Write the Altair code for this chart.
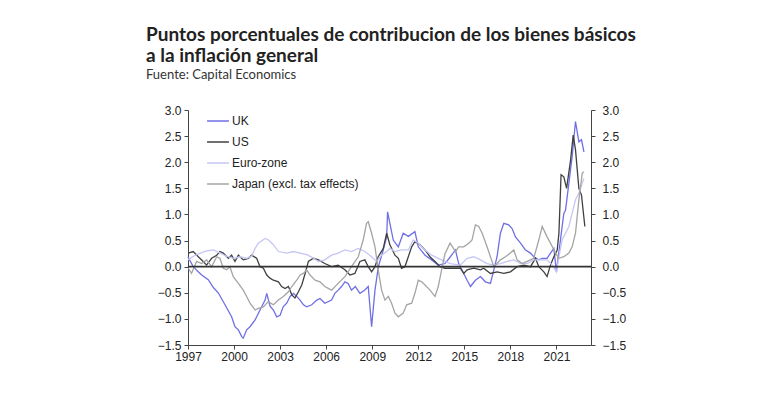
import altair as alt
import pandas as pd

SERIES = ["UK", "US", "Euro-zone", "Japan (excl. tax effects)"]
COLORS = ["#6f6fe6", "#404040", "#c6c6f4", "#a4a4a4"]

UK_YEARS = [1997.0, 1997.3, 1997.6, 1997.89, 1998.32, 1998.65, 1998.97, 1999.41, 1999.84, 2000.06,
            2000.28, 2000.5, 2000.6, 2000.82, 2001.04, 2001.37, 2001.69, 2002.02, 2002.13, 2002.34,
            2002.56, 2002.78, 2003.0, 2003.2, 2003.43, 2003.65, 2003.87, 2004.08, 2004.3, 2004.52,
            2004.73, 2005.06, 2005.39, 2005.6, 2005.91, 2006.35, 2006.57, 2006.78, 2007.0, 2007.22,
            2007.43, 2007.65, 2007.9, 2008.2, 2008.5, 2008.74, 2008.96, 2009.18, 2009.4, 2009.7,
            2009.94, 2010.0, 2010.15, 2010.37, 2010.7, 2011.02, 2011.35, 2011.78, 2012.0, 2012.44,
            2012.87, 2013.3, 2013.74, 2014.09, 2014.42, 2014.63, 2014.96, 2015.18, 2015.4, 2015.72,
            2016.05, 2016.37, 2016.7, 2016.92, 2017.13, 2017.35, 2017.57, 2017.89, 2018.11, 2018.33,
            2018.66, 2018.98, 2019.31, 2019.52, 2019.85, 2020.07, 2020.39, 2020.61, 2020.83, 2021.0,
            2021.09, 2021.26, 2021.48, 2021.59, 2021.81, 2022.02, 2022.24, 2022.46, 2022.63, 2022.79]
UK_VALUES = [0.19, 0.02, -0.08, -0.16, -0.25, -0.40, -0.50, -0.73, -0.96, -1.15,
             -1.21, -1.34, -1.37, -1.21, -1.15, -1.02, -0.83, -0.64, -0.51, -0.75,
             -0.83, -0.96, -0.93, -0.77, -0.70, -0.57, -0.51, -0.57, -0.64, -0.73,
             -0.77, -0.73, -0.64, -0.61, -0.70, -0.64, -0.51, -0.45, -0.38, -0.29,
             -0.32, -0.45, -0.38, -0.51, -0.45, -0.38, -1.15, -0.45, 0.0, 0.30,
             0.57, 1.05, 0.83, 0.51, 0.38, 0.64, 0.58, 0.67, 0.38, 0.22,
             0.13, 0.03, 0.06, 0.19, 0.32, 0.06, -0.13, -0.26, -0.38, -0.26,
             -0.19, -0.29, -0.32, -0.06, 0.19, 0.64, 0.83, 0.80, 0.73, 0.57,
             0.45, 0.32, 0.26, 0.19, 0.13, 0.16, 0.16, 0.26, 0.35, -0.10,
             0.13, 0.51, 1.02, 1.08, 1.60, 2.10, 2.78, 2.39, 2.43, 2.20]

US_YEARS = [1997.02, 1997.34, 1997.67, 1997.99, 1998.21, 1998.54, 1998.87, 1999.08, 1999.3, 1999.63,
            1999.84, 2000.06, 2000.28, 2000.6, 2000.93, 2001.15, 2001.47, 2001.69, 2001.91, 2002.13,
            2002.34, 2002.56, 2002.89, 2003.1, 2003.32, 2003.54, 2003.76, 2003.97, 2004.19, 2004.41,
            2004.63, 2004.84, 2005.17, 2005.5, 2005.91, 2006.35, 2006.78, 2007.22, 2007.55, 2007.87,
            2008.2, 2008.52, 2008.74, 2008.96, 2009.18, 2009.39, 2009.72, 2009.94, 2010.15, 2010.48,
            2010.7, 2010.91, 2011.13, 2011.35, 2011.57, 2011.78, 2012.11, 2012.44, 2012.76, 2013.09,
            2013.41, 2013.74, 2014.18, 2014.74, 2014.96, 2015.18, 2015.61, 2016.05, 2016.26, 2016.7,
            2017.13, 2017.57, 2018.0, 2018.44, 2018.87, 2019.31, 2019.63, 2019.85, 2020.18, 2020.39,
            2020.61, 2020.83, 2021.05, 2021.16, 2021.3, 2021.48, 2021.66, 2021.92, 2022.09, 2022.24,
            2022.46, 2022.63, 2022.85]
US_VALUES = [0.26, 0.29, 0.19, 0.10, 0.03, 0.16, 0.22, 0.29, 0.26, 0.16,
             0.22, 0.10, 0.22, 0.13, 0.16, 0.22, 0.16, 0.0, -0.03, -0.16,
             -0.22, -0.26, -0.29, -0.38, -0.42, -0.38, -0.54, -0.60, -0.48, -0.35,
             -0.13, 0.10, 0.16, 0.13, 0.06, 0.0, 0.03, -0.06, -0.16, -0.13,
             0.10, 0.13, 0.0, -0.10, 0.0, 0.19, 0.35, 0.64, 0.42, 0.22,
             0.16, -0.03, 0.0, 0.19, 0.38, 0.48, 0.42, 0.32, 0.19, 0.10,
             0.0, -0.03, -0.03, -0.03, -0.13, -0.06, -0.03, -0.06, -0.03, -0.13,
             -0.10, -0.13, -0.10, 0.0, 0.03, 0.0, 0.16, 0.0, -0.10, -0.19,
             0.03, 0.19, 0.32, 0.64, 1.76, 1.72, 1.50, 2.04, 2.52, 2.24,
             1.50, 1.37, 0.77]

EZ_YEARS = [1997.0, 1997.35, 1997.8, 1998.2, 1998.65, 1999.1, 1999.5, 1999.96, 2000.4, 2000.83,
            2001.15, 2001.37, 2001.58, 2002.02, 2002.24, 2002.56, 2002.89, 2003.44, 2003.87, 2004.3,
            2004.74, 2005.2, 2005.48, 2005.91, 2006.35, 2006.78, 2007.22, 2007.65, 2008.09, 2008.52,
            2008.96, 2009.28, 2009.61, 2009.94, 2010.15, 2010.48, 2010.91, 2011.35, 2011.67, 2012.0,
            2012.44, 2012.87, 2013.3, 2013.74, 2014.09, 2014.74, 2015.18, 2015.61, 2016.05, 2016.48,
            2016.92, 2017.35, 2017.79, 2018.22, 2018.66, 2019.09, 2019.52, 2019.96, 2020.39, 2020.72,
            2021.0, 2021.16, 2021.37, 2021.59, 2021.81, 2022.02, 2022.24, 2022.46, 2022.68, 2022.79]
EZ_VALUES = [0.13, 0.20, 0.26, 0.30, 0.32, 0.26, 0.20, 0.16, 0.19, 0.16,
             0.20, 0.35, 0.45, 0.54, 0.51, 0.42, 0.29, 0.26, 0.29, 0.26,
             0.23, 0.16, 0.10, 0.13, 0.22, 0.26, 0.32, 0.29, 0.35, 0.29,
             0.19, 0.10, 0.22, 0.29, 0.35, 0.29, 0.32, 0.32, 0.51, 0.45,
             0.32, 0.22, 0.16, 0.10, 0.06, 0.03, 0.16, 0.19, 0.13, 0.06,
             0.03, 0.06, 0.10, 0.13, 0.06, 0.06, 0.13, 0.13, 0.13, 0.03,
             -0.10, 0.19, 0.51, 0.64, 0.77, 1.02, 1.28, 1.41, 1.60, 1.69]

JP_YEARS = [1997.02, 1997.23, 1997.56, 1997.89, 1998.21, 1998.54, 1998.87, 1999.08, 1999.3, 1999.52,
            1999.73, 1999.95, 2000.28, 2000.6, 2000.82, 2001.04, 2001.37, 2001.58, 2001.91, 2002.23,
            2002.56, 2002.89, 2003.21, 2003.54, 2003.76, 2004.08, 2004.3, 2004.52, 2004.73, 2004.95,
            2005.28, 2005.6, 2005.91, 2006.35, 2006.78, 2007.22, 2007.65, 2008.09, 2008.41, 2008.63,
            2008.74, 2008.96, 2009.18, 2009.39, 2009.61, 2009.83, 2010.05, 2010.26, 2010.48, 2010.7,
            2011.02, 2011.24, 2011.57, 2011.78, 2012.0, 2012.22, 2012.44, 2012.76, 2013.09, 2013.3,
            2013.52, 2013.74, 2014.07, 2014.42, 2014.63, 2014.96, 2015.29, 2015.5, 2015.72, 2015.94,
            2016.16, 2016.48, 2016.7, 2016.92, 2017.13, 2017.35, 2017.68, 2018.0, 2018.22, 2018.44,
            2018.76, 2019.09, 2019.52, 2019.85, 2020.07, 2020.39, 2020.61, 2020.94, 2021.16, 2021.48,
            2021.81, 2022.02, 2022.24, 2022.46, 2022.68, 2022.79]
JP_VALUES = [-0.03, -0.13, 0.10, 0.06, 0.13, 0.0, 0.19, 0.16, -0.03, -0.06,
             0.0, -0.19, -0.32, -0.45, -0.57, -0.70, -0.83, -0.80, -0.77, -0.67,
             -0.73, -0.64, -0.57, -0.48, -0.38, -0.26, -0.16, -0.13, -0.06, -0.16,
             -0.26, -0.29, -0.38, -0.45, -0.32, -0.19, 0.0, 0.19, 0.51, 0.83,
             0.86, 0.64, 0.38, -0.06, -0.45, -0.64, -0.57, -0.70, -0.89, -0.96,
             -0.89, -0.73, -0.70, -0.51, -0.26, -0.29, -0.35, -0.45, -0.57, -0.38,
             -0.06, 0.25, 0.45, 0.29, 0.38, 0.38, 0.45, 0.51, 0.80, 0.77,
             0.64, 0.38, 0.19, 0.0, 0.06, 0.13, 0.19, 0.26, 0.32, 0.13,
             0.06, 0.10, 0.16, 0.51, 0.77, 0.57, 0.45, 0.26, 0.16, 0.19,
             0.26, 0.38, 0.64, 1.28, 1.79, 1.82]

Y_TICKS = [-1.5, -1.0, -0.5, 0.0, 0.5, 1.0, 1.5, 2.0, 2.5, 3.0]
X_TICKS = [1997, 2000, 2003, 2006, 2009, 2012, 2015, 2018, 2021]
X_DOMAIN = [1997, 2023.25]
Y_DOMAIN = [-1.5, 3.0]

frames = []
for name, yrs, vals in [("UK", UK_YEARS, UK_VALUES), ("US", US_YEARS, US_VALUES),
                        ("Euro-zone", EZ_YEARS, EZ_VALUES),
                        ("Japan (excl. tax effects)", JP_YEARS, JP_VALUES)]:
    frames.append(pd.DataFrame({"year": yrs, "value": vals, "series": name}))
df = pd.concat(frames, ignore_index=True)

AXIS_FONT = "Liberation Sans"

x_enc = alt.X("year:Q", scale=alt.Scale(domain=X_DOMAIN, nice=False, zero=False),
              axis=alt.Axis(values=X_TICKS, format="d", title=None, grid=False,
                            labelFont=AXIS_FONT, labelFontSize=12, labelColor="#222",
                            domainColor="#444", tickColor="#444", tickSize=4,
                            labelPadding=2, labelFlush=False))

lines = alt.Chart(df).mark_line(strokeWidth=1.3).encode(
    x=x_enc,
    y=alt.Y("value:Q", scale=alt.Scale(domain=Y_DOMAIN, nice=False, zero=False),
            axis=alt.Axis(values=Y_TICKS, format=".1f", title=None, grid=False, orient="left",
                          labelFont=AXIS_FONT, labelFontSize=12, labelColor="#222",
                          domainColor="#444", tickColor="#444", tickSize=4, labelPadding=3)),
    color=alt.Color("series:N", scale=alt.Scale(domain=SERIES, range=COLORS),
                    legend=alt.Legend(title=None, orient="none", legendX=18, legendY=-1,
                                      symbolType="stroke", symbolSize=480, symbolStrokeWidth=1.5,
                                      labelFont=AXIS_FONT, labelFontSize=12, labelColor="#222",
                                      labelOffset=2, rowPadding=3)),
    detail="series:N",
)

zero = alt.Chart(pd.DataFrame({"z": [0.0]})).mark_rule(color="#333", strokeWidth=1.6).encode(
    y=alt.Y("z:Q", scale=alt.Scale(domain=Y_DOMAIN, nice=False, zero=False),
            axis=alt.Axis(values=Y_TICKS, format=".1f", title=None, grid=False, orient="right",
                          labelFont=AXIS_FONT, labelFontSize=12, labelColor="#222",
                          domainColor="#444", tickColor="#444", tickSize=4, labelPadding=7))
)

chart = alt.layer(lines, zero).resolve_scale(y="independent").properties(
    width=403, height=235,
    autosize=alt.AutoSizeParams(type="none"),
    padding={"left": 180, "top": 102, "right": 170, "bottom": 40},
    title=alt.TitleParams(
        text=["Puntos porcentuales de contribucion de los bienes básicos", "a la inflación general"],
        subtitle="Fuente: Capital Economics",
        anchor="start", frame="group", dx=-42, offset=22,
        font="Lato", fontSize=19, fontWeight="bold", color="#222", lineHeight=21,
        subtitleFont="Lato", subtitleFontSize=13, subtitleColor="#333", subtitlePadding=3,
    ),
).configure_view(stroke=None)

chart.save("out.html", embed_options={"renderer": "svg", "actions": False})
